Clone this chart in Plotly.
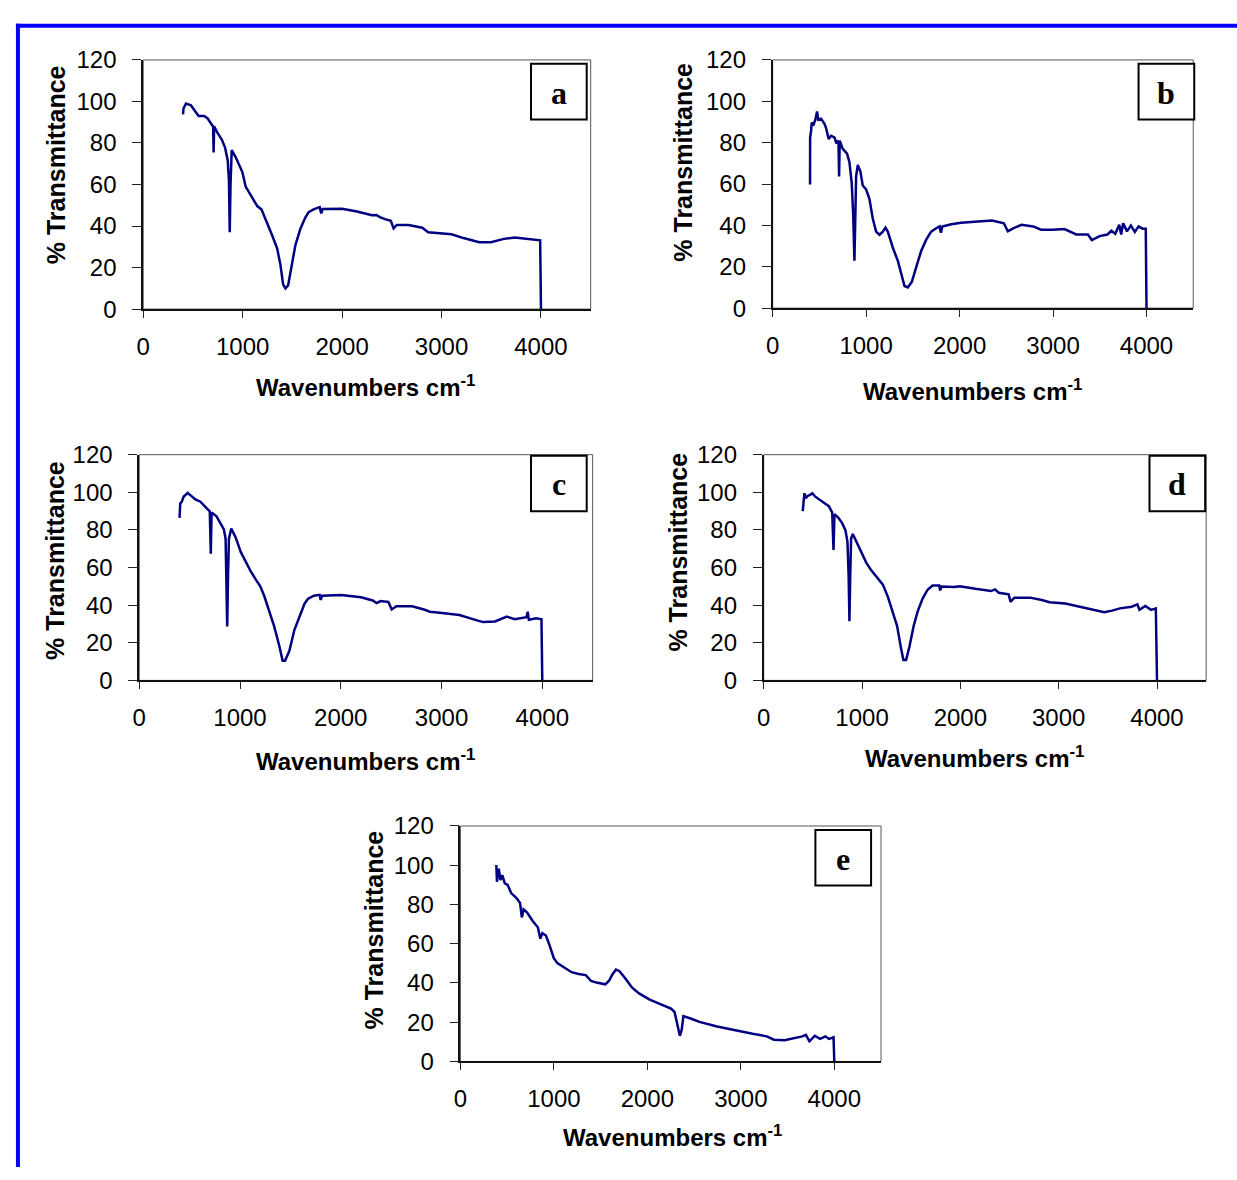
import plotly.graph_objects as go

W, H = 1237, 1180

# ---------------- data ----------------
wn_a = [400, 405, 430, 480, 513, 557, 613, 647, 690, 703, 708, 713, 747, 790, 823, 850, 862, 870, 878, 890,
        930, 997, 1030, 1080, 1147, 1190, 1247, 1297, 1347, 1380, 1407, 1430, 1457, 1490, 1530, 1580, 1630,
        1663, 1713, 1775, 1790, 1805, 1850, 2000, 2150, 2300, 2345, 2380, 2431, 2490, 2518, 2549, 2668, 2806,
        2866, 2984, 3100, 3221, 3379, 3498, 3617, 3735, 3854, 3992, 4000]
T_a = [93.8, 96.6, 99.0, 98.2, 95.9, 93.0, 93.0, 91.9, 88.8, 88.0, 75.4, 88.0, 84.9, 81.7, 77.8, 71.5, 62.0,
       37.0, 60.0, 76.6, 73.1, 66.0, 59.0, 55.0, 49.6, 48.0, 41.7, 35.4, 29.2, 21.3, 11.9, 10.0, 11.4, 19.8,
       30.7, 38.6, 44.1, 46.7, 48.0, 49.1, 46.1, 48.2, 48.2, 48.3, 47.0, 45.2, 45.3, 44.3, 43.3, 42.5, 38.9,
       40.5, 40.5, 39.2, 37.0, 36.5, 36.0, 34.2, 32.2, 32.2, 33.7, 34.5, 33.7, 33.1, 0.0]

wn_b = [400, 401, 411, 418, 439, 457, 475, 489, 518, 554, 571, 600, 625, 661, 679, 704, 711, 718, 750, 796,
        821, 846, 862, 875, 885, 893, 911, 939, 964, 1000, 1036, 1071, 1107, 1143, 1179, 1207, 1232, 1286,
        1339, 1375, 1411, 1446, 1489, 1536, 1589, 1643, 1696, 1750, 1786, 1800, 1815, 1911, 2018, 2161, 2349,
        2474, 2516, 2579, 2662, 2788, 2871, 2997, 3122, 3248, 3373, 3415, 3498, 3582, 3624, 3666, 3708, 3729,
        3750, 3791, 3833, 3875, 3916, 3958, 3992, 4000]
T_b = [59.8, 82.5, 85.6, 89.6, 88.8, 91.1, 95.1, 91.1, 91.6, 89.1, 87.2, 81.7, 83.3, 82.5, 80.2, 80.9, 63.7,
       80.9, 77.0, 74.7, 70.7, 60.5, 45.0, 22.9, 45.0, 63.7, 69.2, 66.0, 59.3, 57.4, 52.7, 43.3, 37.0, 35.5,
       37.0, 38.9, 37.0, 29.2, 22.9, 16.6, 10.7, 10.0, 12.7, 19.8, 27.6, 33.1, 37.0, 38.6, 39.5, 36.5, 39.4,
       40.5, 41.3, 41.8, 42.3, 41.0, 37.1, 38.7, 40.3, 39.5, 37.9, 37.9, 38.2, 35.6, 35.6, 32.9, 34.8, 35.6,
       37.4, 35.9, 40.3, 35.6, 41.0, 37.1, 39.9, 36.8, 39.5, 38.4, 38.4, 0.0]

wn_c = [400, 407, 423, 440, 480, 507, 557, 607, 657, 700, 710, 718, 767, 807, 840, 857, 866, 873, 881, 890,
        913, 957, 1007, 1057, 1107, 1157, 1200, 1240, 1290, 1340, 1390, 1423, 1447, 1490, 1540, 1590, 1640,
        1673, 1733, 1790, 1800, 1815, 1907, 2004, 2200, 2317, 2356, 2395, 2473, 2505, 2552, 2708, 2826, 2885,
        2982, 3178, 3335, 3413, 3530, 3648, 3726, 3843, 3855, 3867, 3941, 3992, 4000]
T_c = [86.4, 94.1, 95.0, 97.6, 99.7, 98.4, 96.2, 95.0, 92.4, 89.8, 67.4, 89.3, 87.2, 83.8, 80.3, 75.2, 55.0,
       28.6, 55.0, 75.2, 80.7, 76.0, 68.3, 63.1, 57.9, 53.6, 50.2, 45.0, 37.2, 28.6, 18.3, 10.5, 10.5, 15.7,
       26.9, 33.8, 40.7, 43.3, 45.0, 45.5, 42.8, 45.0, 45.3, 45.4, 44.2, 42.5, 41.1, 42.2, 41.7, 37.7, 39.4,
       39.4, 37.7, 36.5, 36.0, 34.8, 32.2, 31.0, 31.3, 33.9, 32.5, 33.6, 36.5, 32.2, 33.0, 32.5, 0.0]

wn_d = [397, 404, 414, 428, 448, 471, 495, 522, 572, 623, 663, 697, 710, 720, 758, 798, 832, 852, 864, 872,
        880, 889, 906, 943, 993, 1044, 1094, 1162, 1212, 1263, 1313, 1357, 1397, 1421, 1448, 1481, 1525, 1566,
        1616, 1667, 1717, 1785, 1795, 1808, 1936, 1994, 2153, 2312, 2352, 2391, 2491, 2510, 2550, 2709, 2828,
        2908, 3067, 3225, 3384, 3464, 3543, 3623, 3742, 3801, 3821, 3881, 3940, 3988, 4000]
T_d = [90.0, 96.0, 99.5, 96.9, 98.1, 98.6, 99.5, 97.8, 95.7, 94.0, 92.6, 89.2, 69.4, 88.3, 86.6, 83.6, 79.7,
       73.7, 55.0, 31.5, 55.0, 75.4, 77.8, 73.7, 67.6, 62.5, 58.5, 54.4, 50.9, 44.4, 36.7, 28.9, 16.9, 10.8,
       10.8, 17.7, 28.9, 36.7, 43.5, 48.2, 50.4, 50.4, 47.8, 49.9, 49.7, 50.1, 48.7, 47.5, 48.4, 46.6, 45.8,
       41.8, 44.0, 44.0, 42.7, 41.6, 40.9, 39.2, 37.1, 36.3, 37.1, 38.3, 39.2, 40.4, 37.5, 39.6, 37.5, 38.3, 0.0]

wn_e = [384, 391, 410, 429, 448, 475, 505, 543, 600, 638, 657, 676, 714, 771, 828, 855, 877, 915, 953, 999,
        1037, 1113, 1189, 1265, 1341, 1398, 1455, 1550, 1588, 1626, 1664, 1702, 1759, 1835, 1911, 2025, 2139,
        2253, 2291, 2321, 2348, 2367, 2386, 2462, 2557, 2746, 2936, 3126, 3278, 3354, 3468, 3582, 3658, 3696,
        3734, 3791, 3848, 3905, 3943, 3992, 4000]
T_e = [100.1, 91.6, 98.3, 92.4, 94.9, 90.8, 90.0, 85.8, 83.3, 80.8, 73.4, 77.5, 75.9, 71.7, 68.4, 62.6, 65.4,
       64.2, 59.3, 52.6, 50.1, 47.6, 45.5, 44.6, 44.0, 41.0, 40.2, 39.3, 41.0, 44.3, 46.8, 46.0, 42.7, 37.7,
       34.7, 31.5, 29.0, 26.9, 25.2, 19.4, 13.1, 16.1, 23.1, 21.9, 20.2, 17.8, 15.8, 14.1, 12.8, 11.1, 10.8,
       12.0, 12.8, 13.6, 10.3, 13.1, 11.5, 12.8, 11.5, 12.3, 0.0]

panel_labels = ["a", "b", "c", "d", "e"]
x_ticks = [0, 1000, 2000, 3000, 4000]
y_ticks = [0, 20, 40, 60, 80, 100, 120]
x_title = "Wavenumbers cm<sup>-1</sup>"
y_title = "% Transmittance"

series = [(wn_a, T_a), (wn_b, T_b), (wn_c, T_c), (wn_d, T_d), (wn_e, T_e)]

# ---------------- layout geometry (pixels) ----------------
areas = [(137, 587, 47, 302), (770, 1193, 47, 301), (133, 589, 451, 682),
         (761, 1206, 451, 682), (456, 879, 831, 1072)]
boxes = [(527, 583, 51, 108), (1138, 1194, 51, 108), (527, 583, 452, 509),
         (1149, 1205, 452, 509), (813, 869, 835, 892)]
xtitle_pos = [(361, 381), (971, 385), (361, 763), (973, 760), (669, 1148)]
ytitle_pos = [(50, 154), (679, 152), (48, 559), (675, 551), (369, 937)]


def px(x):
    return x / W


def py(y):
    return 1 - y / H


FONT = "Liberation Sans, Arial, sans-serif"
LINE = "#000080"

fig = go.Figure()
shapes = []
annotations = []
layout = {}

for i, ((wn, T), (l, r, t, b)) in enumerate(zip(series, areas)):
    n = "" if i == 0 else str(i + 1)
    fig.add_trace(go.Scatter(x=wn, y=T, mode="lines", line=dict(color=LINE, width=2.5),
                             xaxis="x" + n, yaxis="y" + n, showlegend=False, hoverinfo="skip"))
    layout["xaxis" + n] = dict(
        domain=[px(l), px(r)], anchor="y" + n, range=[0, 4500],
        tickvals=x_ticks, ticks="outside", ticklen=7, tickcolor="#222", tickwidth=1.2,
        showline=True, linecolor="#111", linewidth=1.7, showgrid=False, zeroline=False,
        tickfont=dict(family=FONT, size=24, color="black"), ticklabelstandoff=8,
        fixedrange=True)
    layout["yaxis" + n] = dict(
        domain=[py(b), py(t)], anchor="x" + n, range=[0, 120],
        tickvals=y_ticks, ticks="outside", ticklen=9, tickcolor="#222", tickwidth=1.2,
        showline=True, linecolor="#111", linewidth=1.7, showgrid=False, zeroline=False,
        tickfont=dict(family=FONT, size=24, color="black"), ticklabelstandoff=11,
        fixedrange=True)
    shapes.append(dict(type="rect", xref="x" + n + " domain", yref="y" + n + " domain",
                       x0=0, x1=1, y0=0, y1=1, line=dict(color="#555", width=1), layer="below"))
    bx0, bx1, by0, by1 = boxes[i]
    shapes.append(dict(type="rect", xref="paper", yref="paper", x0=px(bx0), x1=px(bx1),
                       y0=py(by1), y1=py(by0), line=dict(color="black", width=2),
                       fillcolor="white", layer="above"))
    annotations.append(dict(xref="paper", yref="paper", x=px((bx0 + bx1) / 2), y=py((by0 + by1) / 2 + 1),
                            text=panel_labels[i], showarrow=False,
                            xanchor="center", yanchor="middle",
                            font=dict(family="Liberation Serif, Times New Roman, serif", size=32,
                                      color="black", weight="bold")))
    tx, ty = xtitle_pos[i]
    annotations.append(dict(xref="paper", yref="paper", x=px(tx), y=py(ty), text=x_title,
                            showarrow=False, xanchor="center", yanchor="middle",
                            font=dict(family=FONT, size=24, color="black", weight="bold")))
    yx, yy = ytitle_pos[i]
    annotations.append(dict(xref="paper", yref="paper", x=px(yx), y=py(yy), text=y_title,
                            showarrow=False, xanchor="center", yanchor="middle", textangle=-90,
                            font=dict(family=FONT, size=25, color="black", weight="bold")))

# blue outer frame (top and left edges)
shapes.append(dict(type="line", xref="paper", yref="paper", x0=px(9), x1=px(1237), y0=py(12), y1=py(12),
                   line=dict(color="#0000FF", width=4)))
shapes.append(dict(type="line", xref="paper", yref="paper", x0=px(11), x1=px(11), y0=py(10), y1=py(1180),
                   line=dict(color="#0000FF", width=4)))

fig.update_layout(width=W, height=H, margin=dict(l=0, r=0, t=0, b=0),
                  paper_bgcolor="white", plot_bgcolor="white", showlegend=False,
                  shapes=shapes, annotations=annotations, **layout)

fig.write_html("out.html", config={"displayModeBar": False},
               post_script="document.body.style.margin='0';document.body.style.overflow='hidden';")
